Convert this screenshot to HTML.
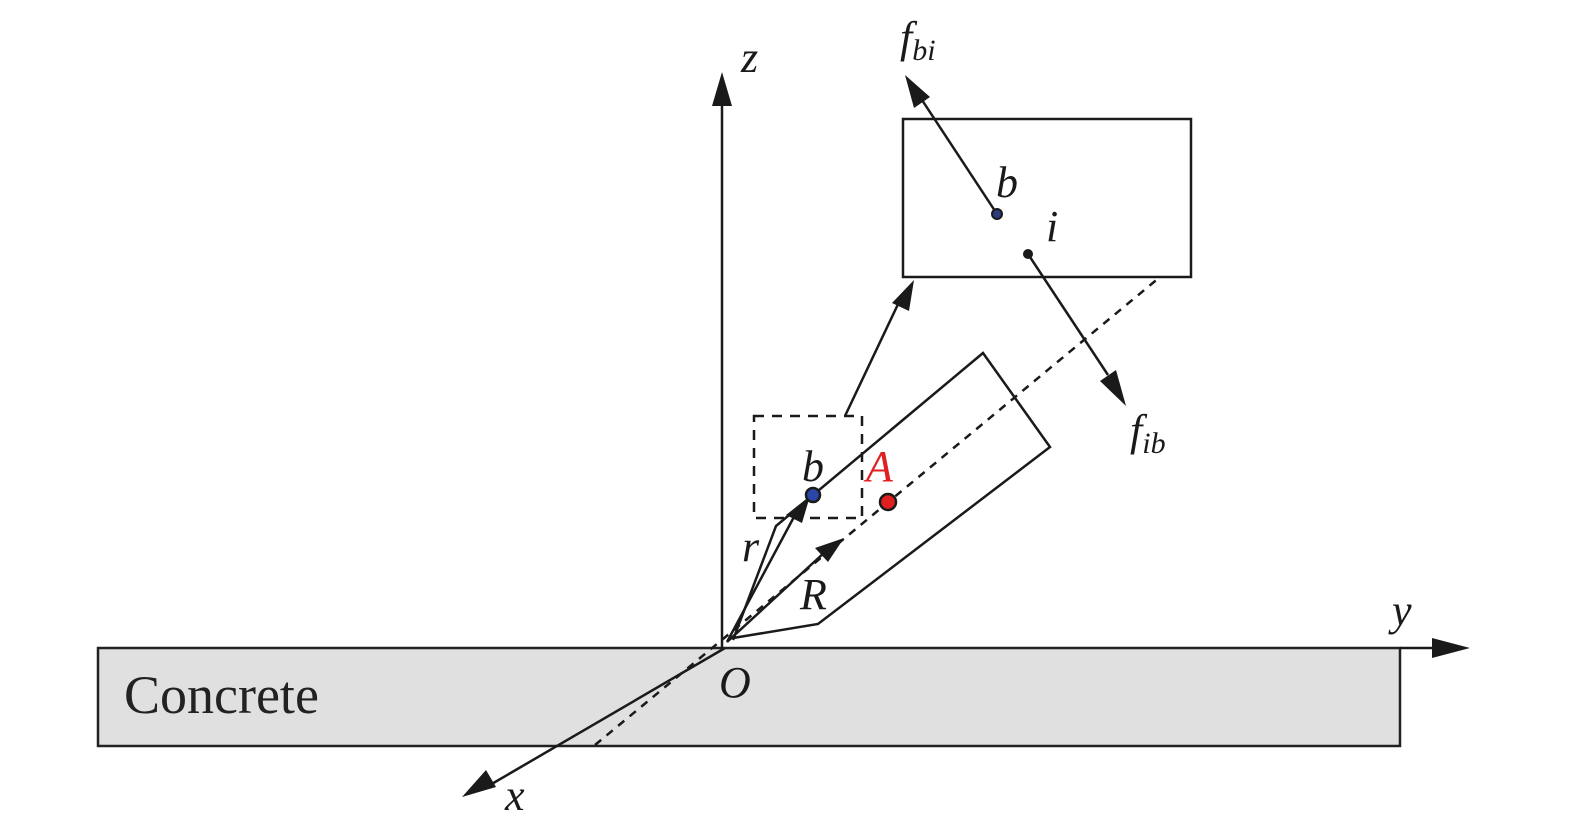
<!DOCTYPE html>
<html><head><style>body{margin:0;background:#fff}svg{display:block}</style></head><body>
<svg width="1575" height="830" viewBox="0 0 1575 830" xmlns="http://www.w3.org/2000/svg" font-family="Liberation Serif, serif">
<rect x="98" y="648" width="1302" height="98" fill="#e0e0e0" stroke="#222" stroke-width="2.5"/>
<text x="124" y="713" font-size="54" fill="#222">Concrete</text>
<g stroke="#1a1a1a" stroke-width="2.5" fill="none">
<line x1="722" y1="648" x2="722" y2="100"/>
<line x1="1400" y1="648" x2="1440" y2="648"/>
<line x1="725" y1="648" x2="490" y2="785"/>
<line x1="595" y1="745" x2="1160" y2="277" stroke-dasharray="8,7"/>
<polyline points="733,640 776,526 983,353 1050,447 818,624 733,638"/>
<rect x="903" y="119" width="288" height="158"/>
<rect x="754" y="416" width="108" height="102" stroke-dasharray="10,8"/>
<line x1="845" y1="416" x2="900" y2="300"/>
<line x1="997" y1="214" x2="922" y2="100"/>
<line x1="1028" y1="254" x2="1108" y2="375"/>
<line x1="727" y1="642" x2="795" y2="515"/>
<line x1="727" y1="642" x2="825" y2="552"/>
</g>
<g fill="#1a1a1a">
<polygon points="722,72 712,106 732,106"/>
<polygon points="1470,648 1432,638 1432,658"/>
<polygon points="462,797 486,770 496,787"/>
<polygon points="914,280 892,303 909,311"/>
<polygon points="905,75 914,108 930,97"/>
<polygon points="1126,406 1100,381 1116,370"/>
<polygon points="810,496 786,515 802,523"/>
<polygon points="844,538 815,548 828,562"/>
</g>
<circle cx="813" cy="495" r="7" fill="#2a46a8" stroke="#1a1a1a" stroke-width="2.5"/>
<circle cx="888" cy="502" r="8" fill="#e02020" stroke="#1a1a1a" stroke-width="2.5"/>
<circle cx="997" cy="214" r="5" fill="#2a3a7a" stroke="#1a1a1a" stroke-width="2"/>
<circle cx="1028" cy="254" r="5" fill="#1a1a1a"/>
<g font-style="italic" fill="#1a1a1a">
<text x="741" y="72" font-size="44">z</text>
<text x="1392" y="625" font-size="44">y</text>
<text x="505" y="810" font-size="44">x</text>
<text x="719" y="697" font-size="44">O</text>
<text x="802" y="481" font-size="44">b</text>
<text x="996" y="197" font-size="44">b</text>
<text x="1046" y="241" font-size="44">i</text>
<text x="742" y="561" font-size="44">r</text>
<text x="800" y="609" font-size="44">R</text>
<text x="866" y="481" font-size="44" fill="#e02020">A</text>
<text x="900" y="52" font-size="44">f<tspan font-size="30" dy="8">bi</tspan></text>
<text x="1130" y="445" font-size="44">f<tspan font-size="30" dy="8">ib</tspan></text>
</g>
</svg>
</body></html>
